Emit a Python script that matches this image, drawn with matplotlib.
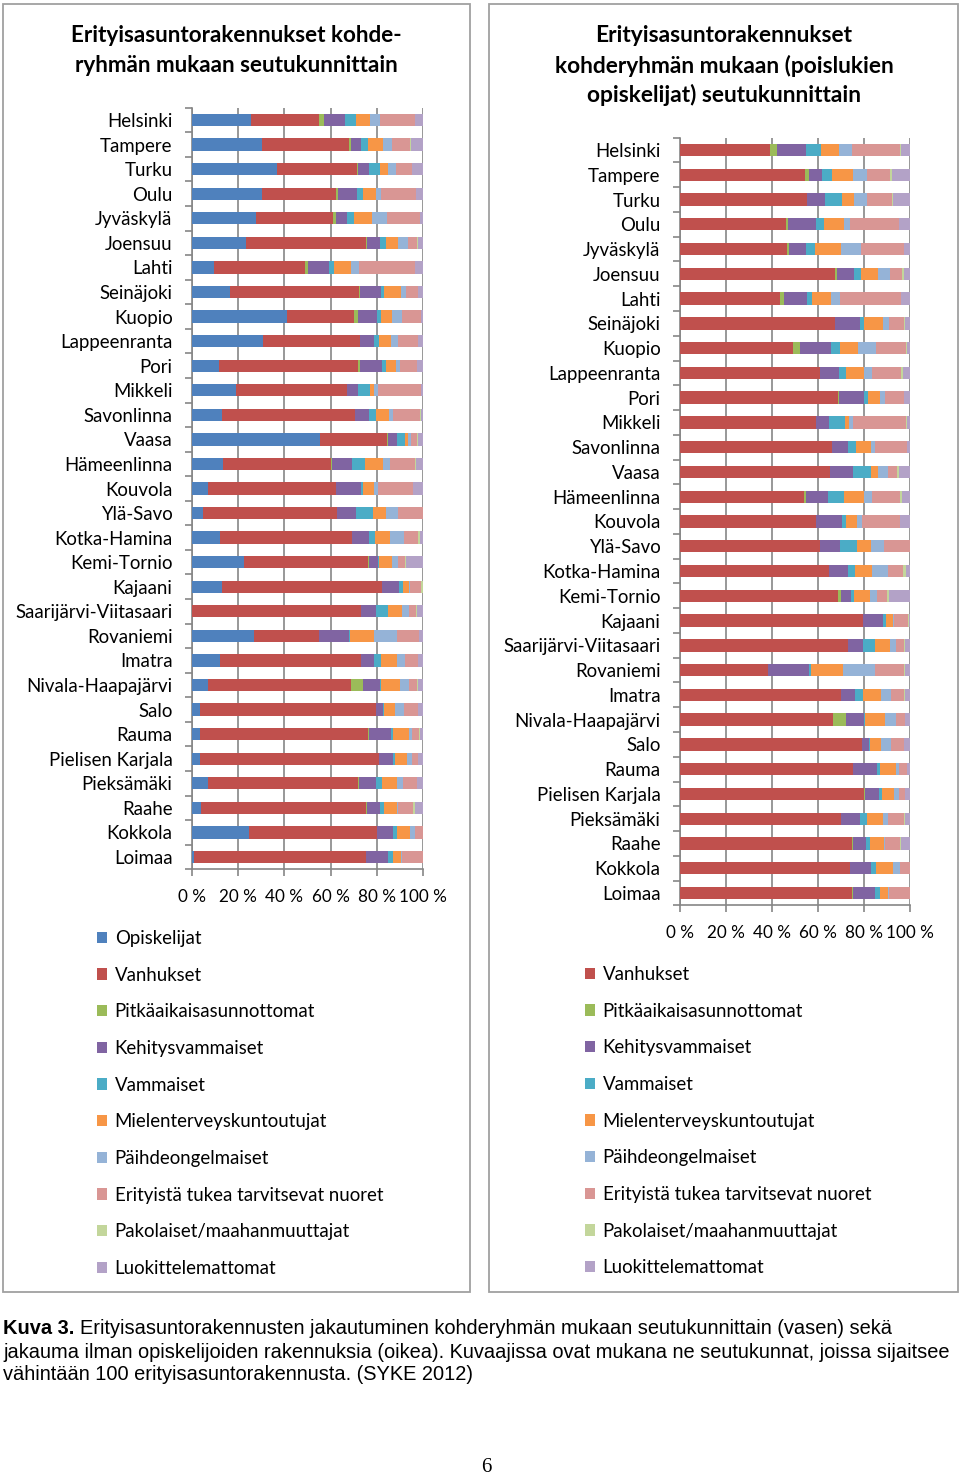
import numpy as np
import matplotlib
matplotlib.use("Agg")
import matplotlib.pyplot as plt
from matplotlib.patches import Rectangle

plt.rcParams['font.family'] = ['Lato', 'DejaVu Sans']

regions = ["Helsinki", "Tampere", "Turku", "Oulu", "Jyväskylä", "Joensuu", "Lahti",
           "Seinäjoki", "Kuopio", "Lappeenranta", "Pori", "Mikkeli", "Savonlinna", "Vaasa",
           "Hämeenlinna", "Kouvola", "Ylä-Savo", "Kotka-Hamina", "Kemi-Tornio", "Kajaani",
           "Saarijärvi-Viitasaari", "Rovaniemi", "Imatra", "Nivala-Haapajärvi", "Salo",
           "Rauma", "Pielisen Karjala", "Pieksämäki", "Raahe", "Kokkola", "Loimaa"]

series_names = ["Opiskelijat", "Vanhukset", "Pitkäaikaisasunnottomat", "Kehitysvammaiset",
                "Vammaiset", "Mielenterveyskuntoutujat", "Päihdeongelmaiset",
                "Erityistä tukea tarvitsevat nuoret", "Pakolaiset/maahanmuuttajat",
                "Luokittelemattomat"]

colors = ["#4F81BD", "#C0504D", "#9BBB59", "#8064A2", "#4BACC6", "#F79646",
          "#95B3D7", "#D99694", "#C3D69B", "#B3A2C7"]

# Left chart (all target groups), percent
opiskelijat_L = [25.6,30.3,36.7,30.3,27.7,23.5,9.7,16.3,41.1,30.7,11.5,19.0,13.0,55.2,13.3,6.9,4.8,12.0,22.5,13.0,0.2,26.7,12.2,6.9,3.6,3.6,3.6,6.8,3.9,24.5,0.7]
vanhukset_L = [29.2,37.7,34.9,31.9,33.5,51.9,39.3,56.2,29.1,42.1,60.5,47.9,57.6,29.4,46.8,55.3,57.9,57.2,53.6,69.1,73.0,28.1,61.0,62.0,76.1,72.8,77.4,65.2,71.6,55.6,74.5]
pitkaaik_L = [2.5,0.7,0.1,0.9,1.0,0.2,1.4,0.1,1.6,0.1,0.8,0.1,0.1,0.1,0.4,0.1,0.1,0.1,0.6,0.1,0.1,0.1,0.1,5.0,0.1,0.1,0.1,0.1,0.1,0.1,0.1]
kehitysv_L = [9.1,4.5,4.9,8.5,4.9,5.9,9.1,9.2,8.2,6.0,9.5,4.7,6.1,4.0,8.7,10.9,8.3,7.2,3.7,7.5,6.5,12.9,5.5,7.5,2.9,9.5,5.7,7.5,5.8,6.9,9.4]
vammaiset_L = [4.8,2.9,4.8,2.3,3.1,2.6,2.0,1.4,1.8,1.9,1.6,5.4,2.8,3.6,5.7,0.7,7.1,2.6,0.6,1.5,5.0,0.7,3.1,0.3,0.5,0.8,1.2,2.6,1.8,1.8,2.1]
mielenterv_L = [6.0,6.6,3.4,5.8,7.9,5.1,7.4,7.1,4.7,5.3,4.3,1.7,5.7,1.2,8.0,4.7,5.9,6.4,5.5,2.6,6.1,10.1,6.8,8.4,4.8,7.0,5.0,6.7,5.7,5.6,3.8]
paihde_L = [4.2,3.8,3.5,2.1,6.3,4.4,3.4,2.2,4.3,2.9,1.9,1.6,1.5,1.4,2.8,1.9,5.0,6.4,2.5,0.4,2.9,10.1,3.6,3.9,3.9,1.4,2.2,2.3,0.3,1.9,0.3]
nuoret_L = [15.1,7.9,6.9,15.0,14.4,3.9,24.2,5.2,8.3,8.7,7.3,18.7,12.1,2.5,10.8,15.0,10.7,5.8,3.4,5.0,3.3,9.4,5.4,3.6,5.8,3.2,2.5,6.2,6.5,3.6,9.1]
pakolaiset_L = [0.2,0.6,0.2,0.1,0.1,0.4,0.1,0.1,0.1,0.1,0.1,0.1,0.1,0.4,0.4,0.1,0.1,0.8,0.4,0.6,0.1,0.1,0.1,0.1,0.1,0.1,0.1,0.1,1.0,0.0,0.0]
luokittel_L = [3.3,5.0,4.6,3.1,1.1,2.1,3.4,2.2,0.8,2.2,2.5,0.8,1.0,2.2,3.1,4.4,0.1,1.5,7.2,0.2,2.8,1.8,2.2,2.3,2.2,1.5,2.2,2.5,3.3,0.0,0.0]

# Right chart (students excluded), percent
vanhukset_R = [39.0,54.3,55.1,46.0,46.4,67.6,43.5,67.2,49.3,60.7,68.6,59.2,66.2,65.2,53.9,59.2,60.7,64.7,68.8,79.5,73.1,38.3,69.8,66.6,79.2,75.3,80.2,69.8,74.9,73.8,74.9]
pitkaaik_R = [3.2,1.8,0.1,0.8,1.0,0.8,1.7,0.1,2.9,0.1,0.4,0.1,0.1,0.1,0.7,0.1,0.1,0.1,1.0,0.1,0.1,0.1,0.1,5.7,0.1,0.1,0.1,0.1,0.1,0.1,0.1]
kehitysv_R = [12.4,5.7,7.8,12.4,7.2,7.2,10.1,11.0,13.3,8.4,10.9,5.5,6.9,9.7,9.9,11.3,8.8,8.4,4.6,8.8,6.5,17.5,6.1,7.9,2.8,10.4,6.2,8.2,5.7,9.0,9.8]
vammaiset_R = [6.5,4.1,7.3,3.5,4.1,3.3,1.9,1.7,4.0,2.9,1.7,7.0,3.2,7.9,6.7,1.5,7.5,2.9,1.2,1.2,5.1,1.0,3.6,0.4,0.7,1.0,1.2,3.1,1.9,2.5,2.0]
mielenterv_R = [8.0,9.2,5.4,8.5,11.1,7.1,8.3,8.4,7.8,7.9,5.2,1.7,6.5,3.2,9.0,5.0,6.1,7.5,6.9,3.1,6.3,14.0,7.6,8.7,4.6,6.9,5.3,7.2,6.1,7.3,3.8]
paihde_R = [5.5,6.3,5.8,2.6,8.7,5.5,4.0,2.5,7.7,3.6,2.2,1.9,1.9,4.3,3.3,1.9,5.5,7.0,3.2,0.4,2.9,13.7,4.7,4.6,4.4,1.5,2.2,2.0,0.3,2.9,0.3]
nuoret_R = [20.9,10.1,10.8,21.3,19.0,5.0,26.6,6.7,13.4,12.7,8.3,23.0,13.7,3.8,12.3,16.6,11.1,6.5,4.3,6.0,3.6,12.7,5.7,3.8,5.7,3.3,2.6,7.2,6.6,4.4,9.1]
pakolaiset_R = [0.4,0.7,0.2,0.1,0.1,0.7,0.1,0.1,0.1,0.5,0.1,0.1,0.1,1.0,0.7,0.1,0.1,1.0,0.8,0.6,0.1,0.6,0.1,0.1,0.1,0.1,0.1,0.1,0.7,0.0,0.0]
luokittel_R = [4.1,7.8,7.5,4.8,2.4,2.8,3.8,2.3,1.5,3.2,2.6,1.5,1.4,4.8,3.5,4.3,0.1,1.9,9.2,0.3,2.3,2.1,2.3,2.2,2.4,1.4,2.1,2.3,3.7,0.0,0.0]

tick_vals = [0, 20, 40, 60, 80, 100]
tick_labels = ["0 %", "20 %", "40 %", "60 %", "80 %", "100 %"]

title_L = ["Erityisasuntorakennukset kohde-", "ryhmän mukaan seutukunnittain"]
title_R = ["Erityisasuntorakennukset", "kohderyhmän mukaan (poislukien", "opiskelijat) seutukunnittain"]

caption_bold = "Kuva 3."
caption_lines = ["Erityisasuntorakennusten jakautuminen kohderyhmän mukaan seutukunnittain (vasen) sekä",
                 "jakauma ilman opiskelijoiden rakennuksia (oikea). Kuvaajissa ovat mukana ne seutukunnat, joissa sijaitsee",
                 "vähintään 100 erityisasuntorakennusta. (SYKE 2012)"]

W, H = 960, 1477
fig = plt.figure(figsize=(W / 100, H / 100), dpi=100)

def fx(px):
    return px / W

def fy(py):
    return 1 - py / H

GRID = "#868686"
FS = 13.4      # category + legend labels
FS_X = 12.3    # value axis labels

def make_axes(x0, x1, ytop, ybot, data, cols, names):
    ax = fig.add_axes([fx(x0), fy(ybot), fx(x1 - x0), (ybot - ytop) / H])
    y = np.arange(len(regions))
    left = np.zeros(len(regions))
    handles = []
    for vals, c, n in zip(data, cols, names):
        v = np.array(vals, dtype=float)
        h = ax.barh(y, v, left=left, height=0.5, color=c, edgecolor='none', label=n, zorder=3)
        handles.append(h)
        left += v
    ax.set_xlim(0, 100)
    ax.set_ylim(len(regions) - 0.5, -0.5)
    ax.set_xticks(tick_vals)
    ax.set_xticklabels(tick_labels, fontsize=FS_X)
    ax.set_yticks(y)
    ax.set_yticklabels(regions, fontsize=FS)
    ax.set_yticks(np.arange(-0.5, len(regions) + 0.5, 1), minor=True)
    ax.tick_params(axis='y', which='major', length=0, pad=14)
    ax.tick_params(axis='y', which='minor', length=5, color=GRID, width=1.2)
    ax.tick_params(axis='x', length=5, color=GRID, width=1.2, pad=9)
    for s in ['top', 'right']:
        ax.spines[s].set_visible(False)
    for s in ['left', 'bottom']:
        ax.spines[s].set_color(GRID)
        ax.spines[s].set_linewidth(1.2)
    ax.grid(axis='x', color=GRID, linewidth=1.2, zorder=0)
    ax.set_axisbelow(True)
    return ax, handles

data_L = [opiskelijat_L, vanhukset_L, pitkaaik_L, kehitysv_L, vammaiset_L, mielenterv_L,
          paihde_L, nuoret_L, pakolaiset_L, luokittel_L]
data_R = [vanhukset_R, pitkaaik_R, kehitysv_R, vammaiset_R, mielenterv_R,
          paihde_R, nuoret_R, pakolaiset_R, luokittel_R]

axL, hL = make_axes(192, 423, 107.7, 869.3, data_L, colors, series_names)
axR, hR = make_axes(680, 910, 137.6, 905.4, data_R, colors[1:], series_names[1:])

# Panel borders
for (x0, x1) in [(3, 470), (489, 958)]:
    fig.patches.append(Rectangle((fx(x0), fy(1292)), fx(x1 - x0), (1292 - 4) / H,
                                 transform=fig.transFigure, fill=False,
                                 edgecolor="#a0a0a0", linewidth=1.3))

# Titles
for i, t in enumerate(title_L):
    fig.text(fx(236.5), fy(36 + 29 * i), t, ha='center', va='center',
             fontsize=16.2, fontweight='bold')
for i, t in enumerate(title_R):
    fig.text(fx(724), fy(36 + 29.5 * i), t, ha='center', va='center',
             fontsize=16.4, fontweight='bold')

# Legends
leg_kw = dict(loc='upper left', frameon=False, borderpad=0, borderaxespad=0,
              handlelength=0.55, handleheight=0.55, handletextpad=0.4,
              labelspacing=1.056, fontsize=FS, bbox_transform=fig.transFigure)
axL.legend(handles=hL, labels=series_names, bbox_to_anchor=(fx(97), fy(930)), **leg_kw)
axR.legend(handles=hR, labels=series_names[1:], bbox_to_anchor=(fx(585), fy(966)), **leg_kw)

# Caption
cap_font = ['Liberation Sans']
CFS = 14.4
fig.text(fx(3), fy(1329), caption_bold, ha='left', va='center', fontsize=CFS,
         fontweight='bold', family=cap_font)
fig.text(fx(80), fy(1329), caption_lines[0], ha='left', va='center', fontsize=CFS,
         family=cap_font)
fig.text(fx(3), fy(1352), caption_lines[1], ha='left', va='center', fontsize=CFS,
         family=cap_font)
fig.text(fx(3), fy(1375), caption_lines[2], ha='left', va='center', fontsize=CFS,
         family=cap_font)

fig.text(fx(486), fy(1467), "6", ha='center', va='center', fontsize=15,
         family=['Liberation Serif'])

fig.savefig("out.png", dpi=100)
